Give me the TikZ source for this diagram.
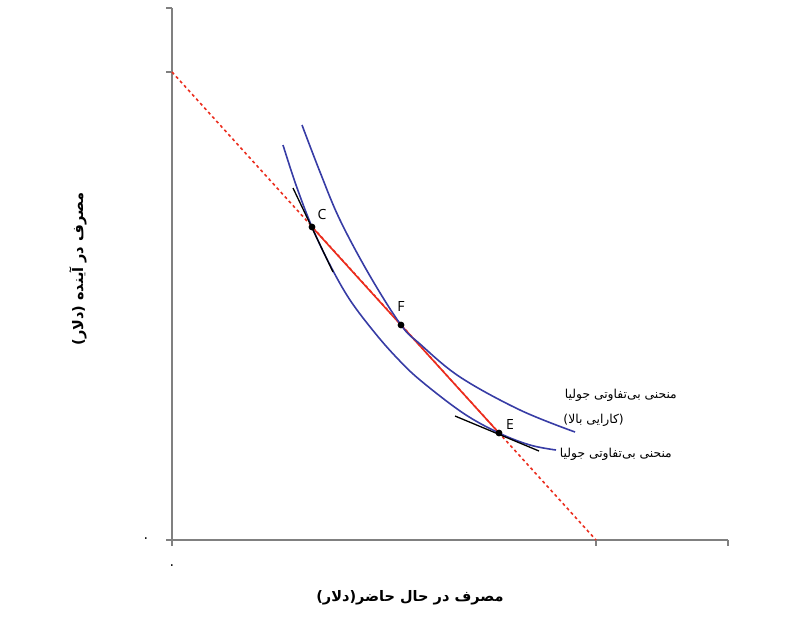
\documentclass[tikz,border=0pt]{standalone}
\usepackage{fontspec}
\setmainfont{Open Sans}
\newfontfamily\arabicfont[Script=Arabic]{DejaVu Sans}
\newfontfamily\latinfont{DejaVu Sans}
\TeXXeTstate=1
\definecolor{axisgray}{RGB}{128,128,128}
\definecolor{icblue}{RGB}{55,60,165}
\definecolor{bred}{RGB}{235,45,30}
\newcommand{\lp}{{\latinfont(}}
\newcommand{\rp}{{\latinfont)}}
\begin{document}
\begin{tikzpicture}[x=1pt,y=-1pt,
  axis/.style={draw=axisgray,line width=1.5pt},
  icurve/.style={draw=icblue,line width=1.6pt},
  budget/.style={draw=bred,line width=1.6pt},
  tangent/.style={draw=black,line width=1.3pt},
  ptlabel/.style={font=\fontsize{14}{14}\selectfont,inner sep=0pt},
  fa/.style={font=\arabicfont\fontsize{12.3}{14}\selectfont,inner sep=0pt},
  zero/.style={font=\arabicfont\fontsize{14}{14}\selectfont,inner sep=0pt},
  axlabel/.style={font=\arabicfont\bfseries\fontsize{14.5}{16}\selectfont,inner sep=0pt}]
\useasboundingbox (0,0) rectangle (810,619);
% axes
\coordinate (O) at (172,540);
\coordinate (ytop) at (172,8);
\coordinate (ybot) at (172,546);
\coordinate (xleft) at (166,540);
\coordinate (xend) at (728,540);
\coordinate (B1) at (172,72);
\coordinate (B2) at (596,540);
\draw[axis] (ybot) -- (ytop);
\draw[axis] (xleft) -- (xend);
\draw[axis] (166,8) -- (ytop);
\draw[axis] (166,72) -- (B1);
\draw[axis] (B2) -- (596,546);
\draw[axis] (xend) -- (728,546);
% budget line
\coordinate (C) at (312,227);
\coordinate (F) at (401,325);
\coordinate (E) at (499,433);
\draw[budget,dash pattern=on 3pt off 3pt] (B1) -- (B2);
\draw[budget] (C) -- (E);
% indifference curves
\draw[icurve] plot[smooth,tension=0.6] coordinates {(283,145) (296,185) (312,227) (330,265) (350,300) (375,333) (397,358) (420,380) (463,413) (499,433) (530,445) (556,450)};
\draw[icurve] plot[smooth,tension=0.6] coordinates {(302,125) (320,172) (340,220) (370,276) (401,325) (420,344) (460,377) (520,410) (575,432)};
% tangents
\coordinate (tc1) at (293,188);
\coordinate (tc2) at (333,272);
\coordinate (te1) at (455,416);
\coordinate (te2) at (539,451);
\draw[tangent] (tc1) -- (tc2);
\draw[tangent] (te1) -- (te2);
% points
\fill (C) circle (3.4);
\fill (F) circle (3.4);
\fill (E) circle (3.4);
\node[ptlabel] (Cl) at (322,214) {C};
\node[ptlabel] (Fl) at (401,306) {F};
\node[ptlabel] (El) at (510,424) {E};
% curve labels
\node[fa,anchor=east] (l1) at (677,395) {\beginR منحنی بی‌تفاوتی جولیا\endR};
\node[fa,anchor=east] (l2) at (624,420) {\lp\beginR کارایی بالا\endR\rp};
\node[fa,anchor=east] (l3) at (672,454) {\beginR منحنی بی‌تفاوتی جولیا\endR};
% axis labels
\node[axlabel] (xl) at (410,598) {\lp\beginR دلار\endR\rp\beginR مصرف در حال حاضر\endR};
\node[axlabel,rotate=90] (yl) at (78,269) {\lp\beginR دلار\endR\rp\ \beginR مصرف در آینده\endR};
% zeros
\node[zero] (z1) at (146,540) {\beginR ۰\endR};
\node[zero] (z2) at (172,567) {\beginR ۰\endR};
\end{tikzpicture}
\end{document}
